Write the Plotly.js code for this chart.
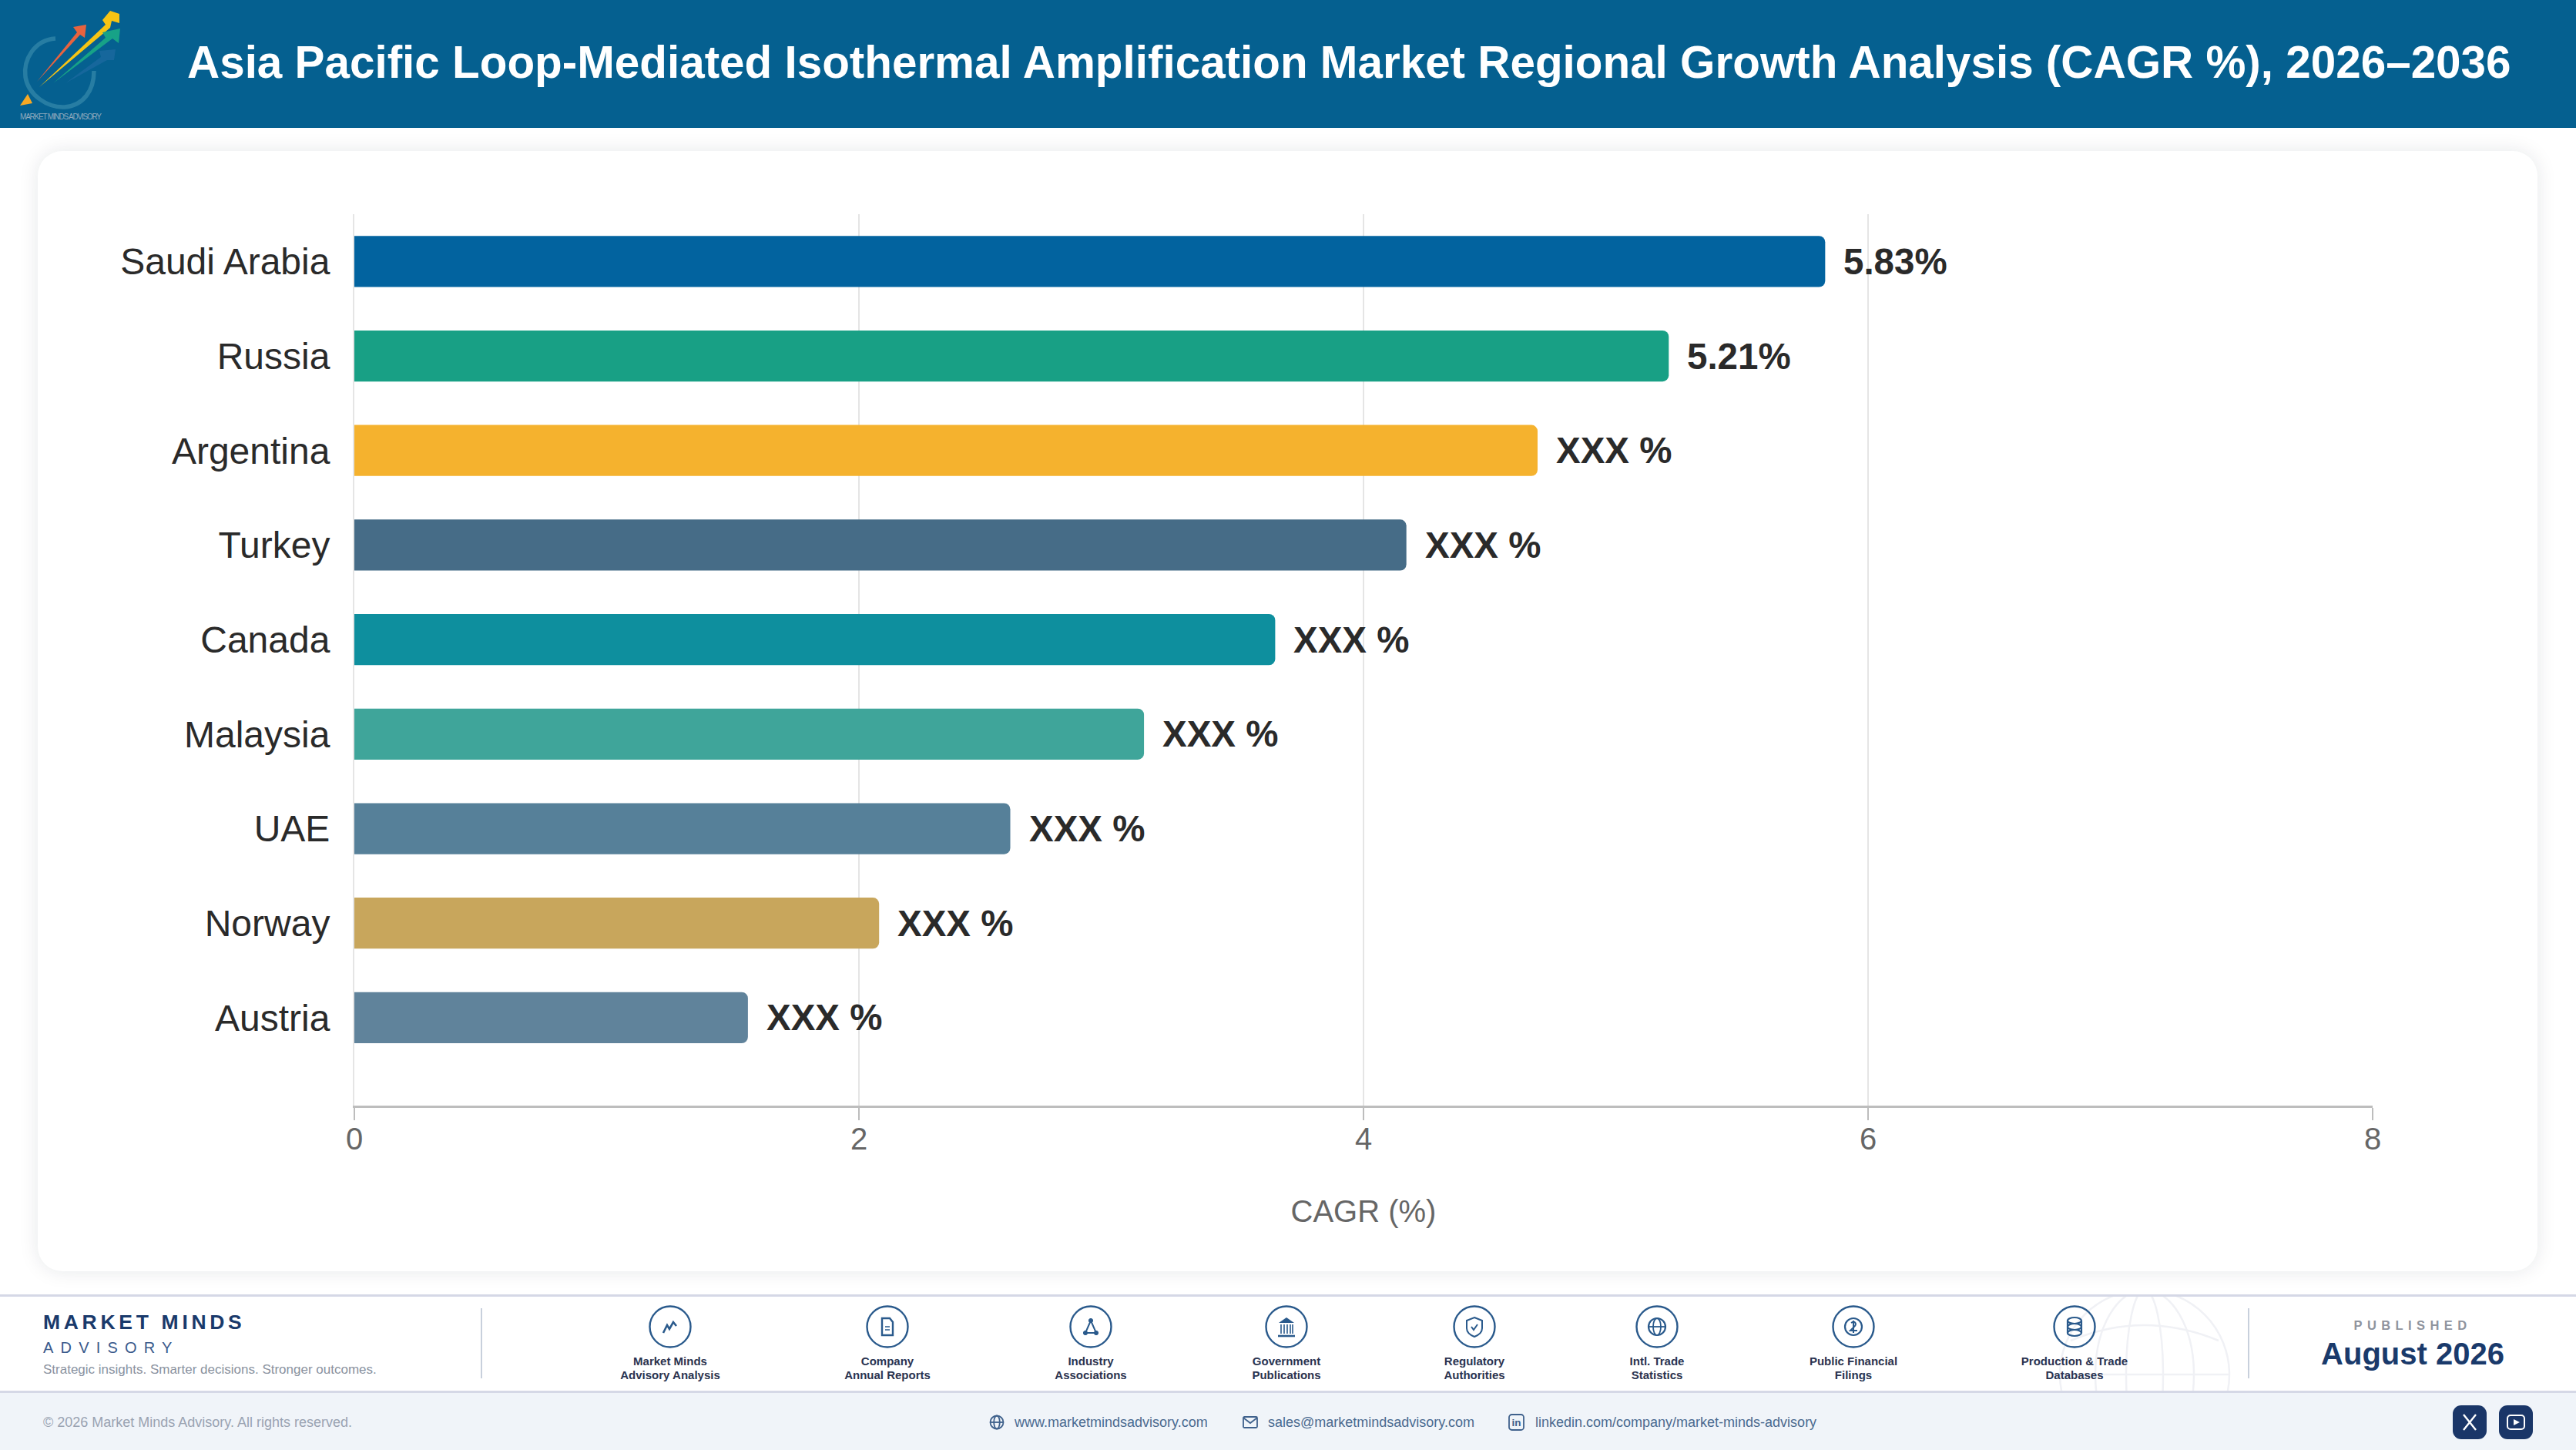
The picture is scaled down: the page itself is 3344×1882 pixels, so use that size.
<!DOCTYPE html>
<html><head><meta charset="utf-8">
<script src="https://cdn.plot.ly/plotly-3.0.1.min.js"></script>
<style>
html,body{margin:0;padding:0;background:#fff;width:3344px;height:1882px;overflow:hidden;font-family:"Liberation Sans",Arial,sans-serif}
.abs{position:absolute}
#header{left:0;top:0;width:3344px;height:166px;background:#056090}
#card{left:49px;top:196px;width:3245px;height:1454px;background:#fff;border-radius:32px;box-shadow:0 0 26px rgba(20,30,50,.10)}
#band{left:0;top:1680px;width:3344px;height:128px;background:#fff;border-top:3px solid #d5d8e6;border-bottom:3px solid #d5d8e6;box-sizing:border-box;overflow:hidden}
#bottom{left:0;top:1808px;width:3344px;height:74px;background:#f0f4f9}
#chart{left:0;top:0;width:3344px;height:1882px}
.t{position:absolute;white-space:nowrap;line-height:1}
.src{position:absolute;width:240px;text-align:center;font-weight:700;font-size:15px;line-height:18px;color:#2a3350;top:1758px;white-space:nowrap}
.link{position:absolute;top:1837px;font-size:18px;line-height:18px;color:#4a6a90;white-space:nowrap}
svg.ic{position:absolute;overflow:visible}
</style></head><body>
<div class="abs" id="header"></div>
<svg class="ic" style="left:0;top:0" width="170" height="166" viewBox="0 0 170 166">
 <path d="M72 50 C44 52 30 78 33 100 C37 124 62 140 84 139 C108 137 122 118 122 92" fill="none" stroke="#2f84a8" stroke-width="5.5" opacity=".8"/>
 <polygon points="48,106 100,42 95,35 112,32 110,49 104,45" fill="#e8633f"/>
 <polygon points="51,113 137,32 133,26 143,14 155,18 155,30 145,27 143,36" fill="#f6c414"/>
 <polygon points="69,108 137,49 133,42 156,37 154,56 146,50" fill="#17a287"/>
 <polygon points="85,108 131,74 129,66 150,64 148,78 139,78" fill="#1c6aa0" opacity=".75"/>
 <polygon points="26,137 36,122 42,134" fill="#f7a823"/>
 <text x="26" y="155" font-size="10" fill="#8fa9bd" textLength="106">MARKET MINDS ADVISORY</text>
</svg>
<div class="abs" id="card"></div>
<div class="abs" id="band">
 <svg class="ic" style="left:2660px;top:-3px" width="250" height="128" viewBox="0 0 250 128" fill="none" stroke="#f0f1f5" stroke-width="2.5">
  <circle cx="124" cy="104" r="110"/><ellipse cx="124" cy="104" rx="64" ry="110"/><ellipse cx="124" cy="104" rx="24" ry="110"/>
  <path d="M28 60 Q124 20 220 60"/><line x1="14" y1="104" x2="234" y2="104"/>
 </svg>
</div>
<div class="abs" id="bottom"></div>

<div class="t" style="left:56px;top:1703px;font-size:26.5px;font-weight:700;color:#1a3a6b;letter-spacing:4.7px">MARKET MINDS</div>
<div class="t" style="left:56px;top:1739px;font-size:20px;color:#3a5a8c;letter-spacing:9.2px">ADVISORY</div>
<div class="t" style="left:56px;top:1769px;font-size:17px;color:#8a92a0">Strategic insights. Smarter decisions. Stronger outcomes.</div>
<div class="abs" style="left:624px;top:1698px;width:2px;height:91px;background:#c8d0dc"></div>
<div class="abs" style="left:2918px;top:1698px;width:2px;height:91px;background:#c8d0dc"></div>
<div class="t" style="left:3002px;width:260px;text-align:center;top:1712px;font-size:16.5px;font-weight:700;color:#8f949e;letter-spacing:6.4px">PUBLISHED</div>
<div class="t" style="left:3002px;width:260px;text-align:center;top:1737px;font-size:40px;font-weight:700;color:#1a3a6b">August 2026</div>
<div id="srcs"></div>

<div class="t" style="left:56px;top:1837px;font-size:18px;color:#9aa3b2">© 2026 Market Minds Advisory. All rights reserved.</div>
<svg class="ic" style="left:1283px;top:1835px" width="22" height="22" viewBox="0 0 22 22" fill="none" stroke="#3f618c" stroke-width="1.8"><circle cx="11" cy="11" r="8.5"/><ellipse cx="11" cy="11" rx="3.8" ry="8.5"/><line x1="2.5" y1="11" x2="19.5" y2="11"/></svg>
<div class="link" style="left:1317px">www.marketmindsadvisory.com</div>
<svg class="ic" style="left:1613px;top:1836px" width="20" height="20" viewBox="0 0 20 20" fill="none" stroke="#3f618c" stroke-width="1.8"><rect x="1" y="3" width="18" height="14" rx="1.5"/><path d="M1.5 4.5 L10 11 L18.5 4.5"/></svg>
<div class="link" style="left:1646px">sales@marketmindsadvisory.com</div>
<svg class="ic" style="left:1958px;top:1835px" width="21" height="22" viewBox="0 0 21 22"><rect x="1" y="1" width="19" height="20" rx="3.5" fill="none" stroke="#3f618c" stroke-width="1.8"/><text x="10.5" y="16" font-size="13.5" font-weight="700" text-anchor="middle" fill="#3f618c">in</text></svg>
<div class="link" style="left:1993px">linkedin.com/company/market-minds-advisory</div>
<svg class="ic" style="left:3184px;top:1824px" width="104" height="44" viewBox="0 0 104 44">
 <rect width="44" height="44" rx="11" fill="#1a3668"/><rect x="60" width="44" height="44" rx="11" fill="#1a3668"/>
 <path d="M14 12 L30 32 M30 12 L14 32" stroke="#fff" stroke-width="2.4"/>
 <rect x="71" y="13" width="22" height="18" rx="4" fill="none" stroke="#fff" stroke-width="2"/><polygon points="79,18 87,22 79,26" fill="#fff"/>
</svg>

<div class="abs" id="chart"></div>
<script>
const categories = ["Saudi Arabia","Russia","Argentina","Turkey","Canada","Malaysia","UAE","Norway","Austria"];
const cagrValues = [5.83,5.21,4.69,4.17,3.65,3.13,2.60,2.08,1.56];
const valueLabels = ["5.83%","5.21%","XXX %","XXX %","XXX %","XXX %","XXX %","XXX %","XXX %"];
const barColors = ["#02639F","#18A085","#F5B22E","#466C87","#0E8F9E","#3FA59A","#568099","#C8A65C","#60839B"];
const xTicks = [0,2,4,6,8];
const chartTitle = "Asia Pacific Loop-Mediated Isothermal Amplification Market Regional Growth Analysis (CAGR %), 2026–2036";
const axisTitle = "CAGR (%)";
const sourceNames = [["Market Minds","Advisory Analysis"],["Company","Annual Reports"],["Industry","Associations"],["Government","Publications"],["Regulatory","Authorities"],["Intl. Trade","Statistics"],["Public Financial","Filings"],["Production & Trade","Databases"]];
const sourceCentres = [870,1152,1416,1670,1914,2151,2406,2693];
const glyphs = [
 '<path d="M-9 8 L-4 -2 L-1 3 L4 -6 L8 -1" fill="none" stroke-width="2.6"/>',
 '<path d="M-7 -11 H3 L7 -6 V11 H-7 Z" fill="none" stroke-width="2.4"/><path d="M-3 0 H3 M-3 4 H3" stroke-width="1.6"/>',
 '<path d="M0 -8 L-7 8 H7 Z" fill="none" stroke-width="2"/><circle cx="0" cy="-8" r="2.6" fill="#2a5a8c"/><circle cx="-7" cy="8" r="2.6" fill="#2a5a8c"/><circle cx="7" cy="8" r="2.6" fill="#2a5a8c"/>',
 '<path d="M-10 -5 L0 -12 L10 -5 Z" fill="#2a5a8c" stroke="none"/><path d="M-7 -3 V9 M-3 -3 V9 M1 -3 V9 M5 -3 V9 M8 -3 V9" stroke-width="1.6"/><path d="M-11 12 H11" stroke-width="2.6"/>',
 '<path d="M0 -12 L10 -8 V2 C10 7 5 11 0 13 C-5 11 -10 7 -10 2 V-8 Z" fill="none" stroke-width="2"/><path d="M-4 0 L-1 4 L4 -3" fill="none" stroke-width="2"/>',
 '<circle r="11" fill="none" stroke-width="2.2"/><ellipse rx="5" ry="11" fill="none" stroke-width="1.8"/><path d="M-11 0 H11" stroke-width="1.8"/>',
 '<circle r="11" fill="none" stroke-width="2.2"/><path d="M-3 -5 C2 -8 5 -4 1 0 L-4 5 H5 M0 -8 V8" fill="none" stroke-width="2"/>',
 '<ellipse cy="-8" rx="9" ry="4" fill="none" stroke-width="2.2"/><ellipse rx="9" ry="4" fill="none" stroke-width="2.2"/><ellipse cy="8" rx="9" ry="4" fill="none" stroke-width="2.2"/><path d="M-9 -8 V8 M9 -8 V8" stroke-width="2.2"/>'
];
document.getElementById('srcs').innerHTML = sourceNames.map((n,i)=>
 `<svg class="ic" style="left:${sourceCentres[i]-28}px;top:1694px" width="56" height="56" viewBox="-28 -28 56 56" stroke="#2a5a8c"><circle r="26.5" fill="none" stroke-width="2.4"/>${glyphs[i]}</svg>`+
 `<div class="src" style="left:${sourceCentres[i]-120}px">${n[0].replace('&','&amp;')}<br>${n[1]}</div>`).join('');

const W=3344,H=1882;
Plotly.newPlot('chart',[{
  type:'bar',orientation:'h',x:cagrValues,y:categories,width:0.54,
  marker:{color:barColors,line:{width:0}},hoverinfo:'x+y'
}],{
  width:W,height:H,autosize:false,
  margin:{l:460,r:264,t:278,b:447,pad:0},
  paper_bgcolor:'rgba(0,0,0,0)',plot_bgcolor:'rgba(0,0,0,0)',
  barcornerradius:8,showlegend:false,
  font:{family:'"Liberation Sans",Arial,sans-serif'},
  title:{text:'<b>'+chartTitle+'</b>',x:243/W,xref:'container',xanchor:'left',y:1-81/H,yref:'container',yanchor:'middle',
         font:{size:58.4,color:'#ffffff',family:'"Liberation Sans",Arial,sans-serif'}},
  xaxis:{range:[0,8],tickvals:xTicks,ticktext:xTicks.map(String),showgrid:true,gridcolor:'#e5e5e5',gridwidth:2,zeroline:false,
    showline:true,linecolor:'#bdbdbd',linewidth:3,ticks:'outside',ticklen:16,tickwidth:2,tickcolor:'#bdbdbd',
    ticklabelstandoff:-10,tickfont:{size:40,color:'#666666'},
    title:{text:axisTitle,font:{size:40,color:'#666666'},standoff:59},automargin:false},
  yaxis:{type:'category',categoryorder:'array',categoryarray:categories,range:[8.93,-0.5],showgrid:false,zeroline:false,showline:true,linecolor:'#e5e5e5',linewidth:2,
    ticks:'outside',ticklen:20,tickwidth:0,tickcolor:'rgba(0,0,0,0)',tickfont:{size:48,color:'#2a2a2a'},automargin:false},
  annotations:categories.map((c,i)=>({x:cagrValues[i],y:c,xref:'x',yref:'y',text:'<b>'+valueLabels[i]+'</b>',showarrow:false,
    xanchor:'left',yanchor:'middle',xshift:22,font:{size:47.5,color:'#2a2a2a'}}))
},{displayModeBar:false,responsive:false});
</script>
</body></html>
